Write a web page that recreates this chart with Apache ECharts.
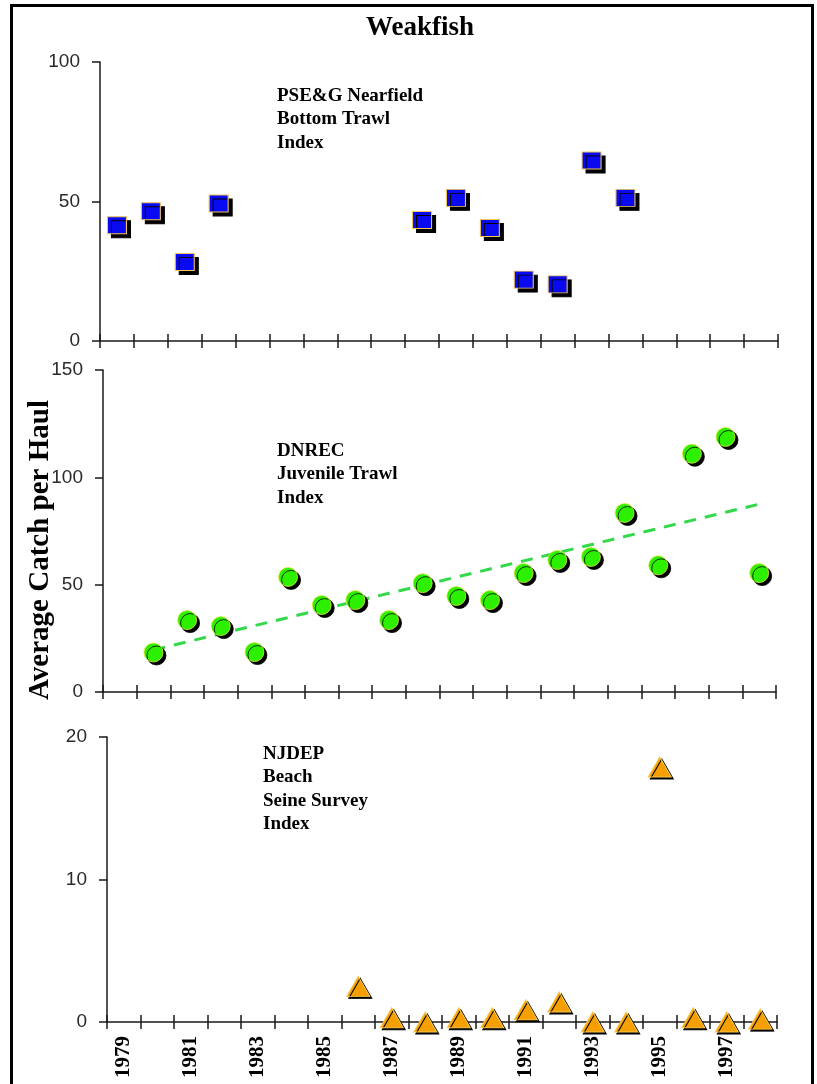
<!DOCTYPE html>
<html>
<head>
<meta charset="utf-8">
<title>Weakfish</title>
<script src="https://cdn.jsdelivr.net/npm/echarts@6/dist/echarts.min.js"></script>
<style>
  html, body { margin: 0; padding: 0; background: #fff; }
  #chart { width: 817px; height: 1084px; }
</style>
</head>
<body>
<div id="chart"></div>
<script>
// Survey years shared by all three panels
const years = ['1979','1980','1981','1982','1983','1984','1985','1986','1987','1988',
               '1989','1990','1991','1992','1993','1994','1995','1996','1997','1998'];

// PSE&G Nearfield Bottom Trawl Index (no sampling 1983-1987)
const psegIndex = [41.5, 46.5, 28.3, 49.3, null, null, null, null, null, 43.4,
                   51.3, 40.5, 22, 20.3, 64.7, 51.3, null, null, null, null];

// DNREC Juvenile Trawl Index
const dnrecIndex = [null, 18.4, 33.5, 30.7, 18.6, 53.6, 40.5, 42.8, 33.5, 50.7,
                    44.7, 42.8, 55.4, 61.5, 62.9, 83.4, 59, 111, 118.8, 55.4];

// NJDEP Beach Seine Survey Index
const njdepIndex = [null, null, null, null, null, null, null, 2.5, 0.3, 0,
                    0.3, 0.3, 0.85, 1.4, 0, 0, 17.9, 0.3, 0, 0.2];

// Y axis extents and step for each panel
const psegAxis = { max: 100, step: 50 };
const dnrecAxis = { max: 150, step: 50 };
const njdepAxis = { max: 20, step: 10 };

// Least-squares trend over the years that have a value
function linearTrend(values) {
  const pts = [];
  values.forEach((v, i) => { if (v != null) pts.push([i, v]); });
  const n = pts.length;
  const mx = pts.reduce((s, p) => s + p[0], 0) / n;
  const my = pts.reduce((s, p) => s + p[1], 0) / n;
  let sxy = 0, sxx = 0;
  pts.forEach(p => { sxy += (p[0] - mx) * (p[1] - my); sxx += (p[0] - mx) * (p[0] - mx); });
  const slope = sxy / sxx, icpt = my - slope * mx;
  const first = pts[0][0], last = pts[n - 1][0];
  return values.map((v, i) => (i >= first && i <= last) ? icpt + slope * i : null);
}
const dnrecTrend = linearTrend(dnrecIndex);

const serif = '"Liberation Serif", "Times New Roman", serif';
const sans = '"Liberation Sans", Arial, sans-serif';
const axisColor = '#1a1a1a';

const grids = [
  { left: 100, top: 62, width: 678, height: 279 },
  { left: 103, top: 370, width: 673, height: 322 },
  { left: 107, top: 737, width: 670, height: 285 }
];

function xAxes(gridIndex, withLabels) {
  return [
    {
      type: 'category', gridIndex, position: 'bottom', data: years, boundaryGap: true,
      axisLine: { lineStyle: { color: axisColor, width: 1.5 } },
      axisTick: { show: true, interval: 0, length: 7, inside: false, lineStyle: { color: axisColor, width: 1.5 } },
      axisLabel: withLabels ? {
        show: true, interval: 1, rotate: 90, margin: 14,
        fontFamily: serif, fontWeight: 'bold', fontSize: 21, color: '#000'
      } : { show: false },
      splitLine: { show: false }
    },
    {
      // ticks on the inner side so each one crosses the axis line
      type: 'category', gridIndex, position: 'bottom', offset: 0, data: years, boundaryGap: true,
      axisLine: { show: false },
      axisTick: { show: true, interval: 0, length: 7, inside: true, lineStyle: { color: axisColor, width: 1.5 } },
      axisLabel: { show: false },
      splitLine: { show: false }
    }
  ];
}

function yAxis(gridIndex, ax) {
  return {
    type: 'value', gridIndex, min: 0, max: ax.max, interval: ax.step,
    axisLine: { show: true, lineStyle: { color: axisColor, width: 1.5 } },
    axisTick: { show: true, length: 8, lineStyle: { color: axisColor, width: 1.5 } },
    axisLabel: { margin: 20, fontFamily: sans, fontSize: 19, color: '#2a2a2a' },
    splitLine: { show: false }
  };
}

const annotationFont = 'bold 19px ' + serif;

const option = {
  backgroundColor: '#fff',
  animation: false,
  grid: grids,
  xAxis: [].concat(xAxes(0, false), xAxes(1, false), xAxes(2, true)),
  yAxis: [yAxis(0, psegAxis), yAxis(1, dnrecAxis), yAxis(2, njdepAxis)],
  series: [
    {
      name: 'PSE&G Nearfield Bottom Trawl Index', type: 'scatter',
      xAxisIndex: 0, yAxisIndex: 0, data: psegIndex, clip: false,
      symbol: 'rect', symbolSize: [19, 17],
      itemStyle: {
        color: '#0a0af2', borderColor: '#f2c75a', borderWidth: 1,
        shadowColor: '#000', shadowBlur: 0, shadowOffsetX: 4, shadowOffsetY: 4, opacity: 1
      }
    },
    {
      name: 'DNREC trend', type: 'line',
      xAxisIndex: 2, yAxisIndex: 1, data: dnrecTrend,
      symbol: 'none', connectNulls: false, z: 1,
      lineStyle: { color: '#33d94a', width: 3, type: [12, 9] }
    },
    {
      name: 'DNREC Juvenile Trawl Index', type: 'scatter',
      xAxisIndex: 2, yAxisIndex: 1, data: dnrecIndex, clip: false, z: 3,
      symbol: 'circle', symbolSize: 19,
      itemStyle: {
        color: '#2cf000', borderColor: '#dfe840', borderWidth: 0.8,
        shadowColor: '#000', shadowBlur: 0, shadowOffsetX: 3, shadowOffsetY: 3, opacity: 1
      }
    },
    {
      name: 'NJDEP Beach Seine Survey Index', type: 'scatter',
      xAxisIndex: 4, yAxisIndex: 2, data: njdepIndex, clip: false, z: 3,
      symbol: 'triangle', symbolSize: [23, 20],
      itemStyle: {
        color: '#f5a000', borderColor: '#f8c850', borderWidth: 1,
        shadowColor: '#000', shadowBlur: 0, shadowOffsetX: 2, shadowOffsetY: 2, opacity: 1
      }
    }
  ],
  graphic: [
    {
      type: 'text', x: 420, y: 28, silent: true,
      style: { text: 'Weakfish', textAlign: 'center', textVerticalAlign: 'middle',
               font: 'bold 27px ' + serif, fill: '#000' }
    },
    {
      type: 'text', left: 277, top: 84, silent: true,
      style: { text: 'PSE&G Nearfield\nBottom Trawl\nIndex', font: annotationFont, lineHeight: 23.5, fill: '#000' }
    },
    {
      type: 'text', left: 277, top: 439, silent: true,
      style: { text: 'DNREC\nJuvenile Trawl\nIndex', font: annotationFont, lineHeight: 23.5, fill: '#000' }
    },
    {
      type: 'text', left: 263, top: 742, silent: true,
      style: { text: 'NJDEP\nBeach\nSeine Survey\nIndex', font: annotationFont, lineHeight: 23.5, fill: '#000' }
    },
    {
      type: 'text', x: 41, y: 550, rotation: Math.PI / 2, silent: true,
      style: { text: 'Average Catch per Haul', textAlign: 'center', textVerticalAlign: 'middle',
               font: 'bold 29px ' + serif, fill: '#000' }
    },
    {
      type: 'rect', silent: true, z: 100,
      shape: { x: 11.5, y: 5.5, width: 801, height: 1100 },
      style: { fill: 'none', stroke: '#000', lineWidth: 3 }
    }
  ]
};

const chart = echarts.init(document.getElementById('chart'), null, { renderer: 'canvas' });
chart.setOption(option);
</script>
</body>
</html>
